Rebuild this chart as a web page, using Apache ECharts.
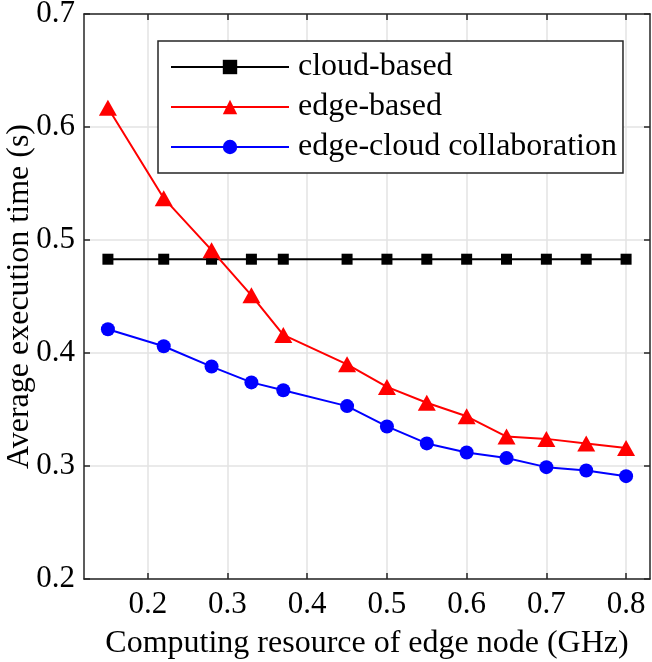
<!DOCTYPE html>
<html>
<head>
<meta charset="utf-8">
<script src="https://cdn.jsdelivr.net/npm/echarts@6/dist/echarts.min.js"></script>
<style>html,body{margin:0;padding:0;background:#fff}#c{width:652px;height:662px}</style>
</head>
<body>
<div id="c"></div>
<script>
const xValues = [0.15, 0.22, 0.28, 0.33, 0.37, 0.45, 0.5, 0.55, 0.6, 0.65, 0.7, 0.75, 0.8];
const cloudBased = [0.483, 0.483, 0.483, 0.483, 0.483, 0.483, 0.483, 0.483, 0.483, 0.483, 0.483, 0.483, 0.483];
const edgeBased = [0.617, 0.537, 0.491, 0.451, 0.416, 0.390, 0.370, 0.356, 0.344, 0.326, 0.324, 0.320, 0.316];
const edgeCloud = [0.421, 0.406, 0.388, 0.374, 0.367, 0.353, 0.335, 0.320, 0.312, 0.307, 0.299, 0.296, 0.291];
const xTicks = [0.2, 0.3, 0.4, 0.5, 0.6, 0.7, 0.8];
const seriesNames = ['cloud-based', 'edge-based', 'edge-cloud collaboration'];
const xTitle = 'Computing resource of edge node (GHz)';
const yTitle = 'Average execution time (s)';

const FONT = 'Liberation Serif';
const FS = 32;
const TFS = 31;
const AX = '#262626';
const GRIDC = '#e3e3e3';

function pairs(ys) { return xValues.map((x, i) => [x, ys[i]]); }

const chart = echarts.init(document.getElementById('c'), null, {renderer: 'canvas'});
chart.setOption({
  animation: false,
  backgroundColor: '#fff',
  grid: {left: 84, top: 14, right: 2, bottom: 83, containLabel: false, outerBoundsMode: 'none'},
  legend: {
    orient: 'vertical',
    left: 158, top: 41,
    backgroundColor: '#fff',
    borderColor: AX, borderWidth: 1.5, borderRadius: 0,
    padding: [10, 6, 10, 12],
    itemWidth: 118, itemHeight: 18, itemGap: 8,
    textStyle: {fontFamily: FONT, fontSize: FS, color: '#000', lineHeight: 32, padding: [0, 0, 0, 4]},
    data: seriesNames
  },
  xAxis: [{
    type: 'value', min: 0.12, max: 0.83, interval: 0.01, position: 'bottom',
    axisLine: {show: true, onZero: false, lineStyle: {color: AX, width: 1.5}},
    axisTick: {show: true, inside: true, length: 6, lineStyle: {color: AX, width: 1.5}, customValues: xTicks},
    axisLabel: {fontFamily: FONT, fontSize: TFS, color: '#000', margin: 10, customValues: xTicks, formatter: v => String(v)},
    splitLine: {show: true, lineStyle: {color: GRIDC, width: 1.5}},
    name: xTitle, nameLocation: 'middle', nameGap: 49, nameMoveOverlap: false,
    nameTextStyle: {fontFamily: FONT, fontSize: FS, color: '#000'}
  }, {
    type: 'value', min: 0.12, max: 0.83, interval: 0.01, position: 'top',
    axisLine: {show: true, onZero: false, lineStyle: {color: AX, width: 1.5}},
    axisTick: {show: true, inside: true, length: 6, lineStyle: {color: AX, width: 1.5}, customValues: xTicks},
    axisLabel: {show: false},
    splitLine: {show: false}
  }],
  yAxis: [{
    type: 'value', min: 0.2, max: 0.7, interval: 0.1, position: 'left',
    axisLine: {show: true, onZero: false, lineStyle: {color: AX, width: 1.5}},
    axisTick: {show: true, inside: true, length: 6, lineStyle: {color: AX, width: 1.5}},
    axisLabel: {fontFamily: FONT, fontSize: TFS, color: '#000', margin: 9, formatter: v => v.toFixed(1)},
    splitLine: {show: true, lineStyle: {color: GRIDC, width: 1.5}},
    name: yTitle, nameLocation: 'middle', nameGap: 48, nameRotate: 90, nameMoveOverlap: false,
    nameTextStyle: {fontFamily: FONT, fontSize: FS, color: '#000'}
  }, {
    type: 'value', min: 0.2, max: 0.7, interval: 0.1, position: 'right',
    axisLine: {show: true, onZero: false, lineStyle: {color: AX, width: 1.5}},
    axisTick: {show: true, inside: true, length: 6, lineStyle: {color: AX, width: 1.5}},
    axisLabel: {show: false},
    splitLine: {show: false}
  }],
  series: [{
    name: seriesNames[0], type: 'line', data: pairs(cloudBased),
    symbol: 'rect', symbolSize: 11,
    lineStyle: {color: '#000', width: 2}, itemStyle: {color: '#000'}, z: 3
  }, {
    name: seriesNames[1], type: 'line', data: pairs(edgeBased),
    symbol: 'triangle', symbolSize: [18, 16],
    lineStyle: {color: '#ff0000', width: 2}, itemStyle: {color: '#ff0000'}, z: 4
  }, {
    name: seriesNames[2], type: 'line', data: pairs(edgeCloud),
    symbol: 'circle', symbolSize: 14,
    lineStyle: {color: '#0000ff', width: 2}, itemStyle: {color: '#0000ff'}, z: 5
  }]
});
</script>
</body>
</html>
